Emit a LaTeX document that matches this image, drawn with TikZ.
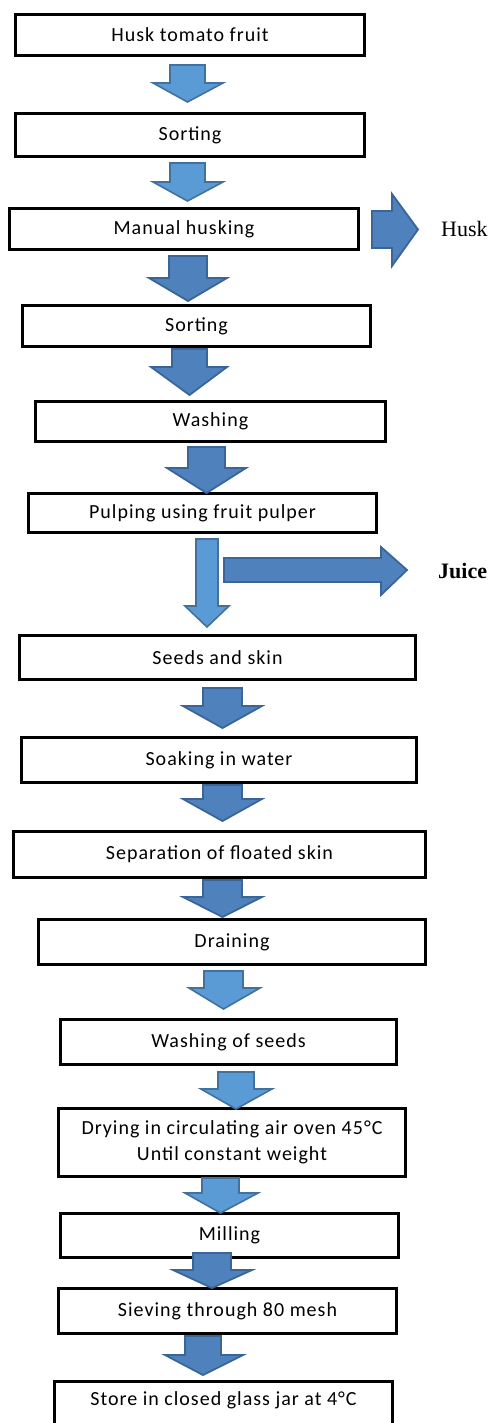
\documentclass[tikz,border=0pt]{standalone}
\usepackage{fontspec}
\setmainfont{Carlito}[LetterSpace=5]
\newfontfamily\tnr{Liberation Serif}
\definecolor{lightfill}{HTML}{5B9BD5}
\definecolor{lightedge}{HTML}{41719C}
\definecolor{darkfill}{HTML}{4F81BD}
\definecolor{darkedge}{HTML}{3A6597}
\tikzset{
  box/.style={draw=black, line width=3pt, fill=white, inner sep=0pt, font=\fontsize{20}{26}\selectfont, align=center},
  larrow/.style={fill=lightfill, draw=lightedge, line width=1.6pt, line join=miter},
  darrow/.style={fill=darkfill, draw=darkedge, line width=1.8pt, line join=miter}
}
% down block arrow: style, shaft x1, shaft x2, top y, head y, head x1, head x2, tip y
\newcommand\dnblock[8]{%
  \path[#1] (#2,#4) -- (#3,#4) -- (#3,#5) -- (#7,#5) -- ({(#2+#3)/2},#8) -- (#6,#5) -- (#2,#5) -- cycle;}
% right block arrow: style, shaft y1, shaft y2, left x, head x, head y1, head y2, tip x
\newcommand\rtblock[8]{%
  \path[#1] (#4,#2) -- (#5,#2) -- (#5,#6) -- (#8,{(#2+#3)/2}) -- (#5,#7) -- (#5,#3) -- (#4,#3) -- cycle;}
\begin{document}
\begin{tikzpicture}[x=1pt,y=-1pt]
\useasboundingbox (0,0) rectangle (494,1423);
\begin{scope}
\clip (0,0) rectangle (494,1423);
% boxes
\node[box, minimum width=349pt, minimum height=41pt] (b1) at (190,35) {Husk tomato fruit};
\node[box, minimum width=349pt, minimum height=43pt] (b2) at (190,135) {Sorting};
\node[box, minimum width=349pt, minimum height=41pt] (b3) at (184,229) {Manual husking};
\node[box, minimum width=348pt, minimum height=41pt] (b4) at (196.5,326) {Sorting};
\node[box, minimum width=350pt, minimum height=40pt] (b5) at (210.5,421.5) {Washing};
\node[box, minimum width=348pt, minimum height=39pt] (b6) at (202.5,513) {Pulping using fruit pulper};
\node[box, minimum width=396pt, minimum height=44pt] (b7) at (217.5,657.5) {Seeds and skin};
\node[box, minimum width=395pt, minimum height=45pt] (b8) at (219,760) {Soaking in water};
\node[box, minimum width=412pt, minimum height=46pt] (b9) at (219.5,854.5) {Separation of floated skin};
\node[box, minimum width=387pt, minimum height=45pt] (b10) at (232,942) {Draining};
\node[box, minimum width=336pt, minimum height=45pt] (b11) at (228.5,1042) {Washing of seeds};
\node[box, minimum width=347pt, minimum height=68pt] (b12) at (232,1142.5) {Drying in circulating air oven 45°C\\Until constant weight};
\node[box, minimum width=338pt, minimum height=44pt] (b13) at (229.5,1235.5) {Milling};
\node[box, minimum width=338pt, minimum height=45pt] (b14) at (227.5,1311) {Sieving through 80 mesh};
\node[box, minimum width=338pt, minimum height=59pt, text depth=0pt, anchor=north] (b15) at (223.5,1379.5) {\raisebox{0pt}[0pt][0pt]{}};
\node[font=\fontsize{20}{26}\selectfont] (t15) at (223.5,1400) {Store in closed glass jar at 4°C};
% side outputs
\node[font=\tnr\fontsize{22}{26}\selectfont, anchor=west, inner sep=0pt] (husk) at (441,229) {Husk};
\node[font=\tnr\bfseries\fontsize{22}{26}\selectfont, anchor=west, inner sep=0pt] (juice) at (438,571) {Juice};
% block arrows
\dnblock{larrow}{170}{205}{65}{83}{153}{223}{102}
\dnblock{larrow}{170}{205}{163}{182}{153}{223}{201}
\dnblock{darrow}{169}{207}{256}{278}{149}{227}{301}
\dnblock{darrow}{172}{207}{349}{367}{151}{227}{395}
\dnblock{darrow}{188}{225}{447}{468}{167}{246}{493}
\dnblock{larrow}{196}{218}{539}{606}{185}{229}{627}
\rtblock{darrow}{558}{582}{224}{381}{547}{595}{407}
\rtblock{darrow}{211}{248}{372}{392}{194}{266}{418}
\dnblock{darrow}{203}{242}{688}{706}{183}{262}{728}
\dnblock{darrow}{203}{242}{785}{799}{183}{262}{821}
\dnblock{darrow}{203}{242}{880}{897}{183}{262}{917}
\dnblock{larrow}{204}{243}{971}{988}{189}{260}{1009}
\dnblock{larrow}{218}{254}{1072}{1089}{201}{272}{1109}
\dnblock{larrow}{202}{239}{1178}{1193}{185}{258}{1213}
\dnblock{darrow}{193}{231}{1253}{1270}{173}{252}{1288}
\dnblock{darrow}{185}{221}{1336}{1355}{165}{243}{1375}
\end{scope}
\end{tikzpicture}
\end{document}
